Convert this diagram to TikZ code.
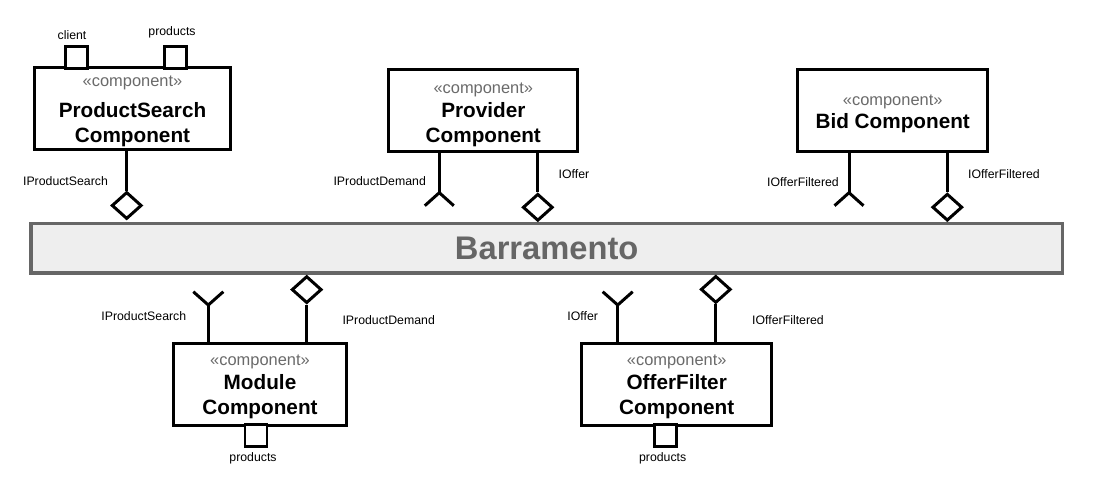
\documentclass[tikz,border=0pt]{standalone}
\usepackage{fontspec}
\setmainfont{Liberation Sans}
\usetikzlibrary{shapes.geometric,calc}
\definecolor{busfill}{HTML}{EEEEEE}
\definecolor{busline}{HTML}{666666}
\definecolor{stereo}{HTML}{6A6A6A}
\tikzset{
  ucomp/.style={draw=black,fill=white,line width=1.7pt,inner sep=0pt,minimum height=1.64cm},
  ubus/.style={draw=busline,fill=busfill,line width=2.1pt,minimum width=20.63cm,minimum height=0.99cm,text=busline,font=\fontsize{18.6}{20}\selectfont\bfseries},
  uport/.style={draw=black,fill=white,line width=1.7pt,minimum size=0.44cm,inner sep=0pt},
  uprov/.style={diamond,draw=black,fill=white,line width=1.7pt,minimum width=0.6cm,minimum height=0.54cm,inner sep=0pt},
  uline/.style={line width=1.7pt,draw=black},
  ustereo/.style={text=stereo,font=\fontsize{9.35}{11}\selectfont,inner sep=0pt},
  uname/.style={font=\fontsize{11.8}{14.2}\selectfont\bfseries,align=center,inner sep=0pt},
  ulabel/.style={font=\fontsize{7}{8}\selectfont,inner sep=0pt}
}

\begin{document}
\begin{tikzpicture}[x=0.02cm,y=-0.02cm]
  \useasboundingbox (0,0) rectangle (1101,484);
  % bus
  \node[ubus] (bus) at (546.7,248.3) {Barramento};

  % upper components
  \node[ucomp,minimum width=3.92cm] (ps) at (132.5,108.5) {};
  \node[ustereo] (psst) at (132.5,82.5) {«component»};
  \node[uname] (psnm) at (132.5,125) {ProductSearch\\Component};
  \node[uport] (psclient) at (76.8,57.5) {};
  \node[uport] (psprod) at (175.3,57.5) {};
  \node[ulabel] (psclientl) at (72,35) {client};
  \node[ulabel] (psprodl) at (172,32.7) {products};

  \node[ucomp,minimum width=3.78cm] (prov) at (483,110.5) {};
  \node[ustereo] (provst) at (483.3,90) {«component»};
  \node[uname] (provnm) at (483.3,125) {Provider\\Component};

  \node[ucomp,minimum width=3.8cm] (bid) at (892.5,110.8) {};
  \node[ustereo] (bidst) at (892.7,101.5) {«component»};
  \node[uname] (bidnm) at (892.7,123.3) {Bid Component};

  % lower components
  \node[ucomp,minimum width=3.46cm] (mod) at (260,384.7) {};
  \node[ustereo] (modst) at (260,362.2) {«component»};
  \node[uname] (modnm) at (260,397) {Module\\Component};
  \node[uport] (modprod) at (256,435) {};
  \node[ulabel] (modprodl) at (253,458) {products};

  \node[ucomp,minimum width=3.8cm] (of) at (676.5,384.7) {};
  \node[ustereo] (ofst) at (676.7,362.2) {«component»};
  \node[uname] (ofnm) at (676.7,397) {OfferFilter\\Component};
  \node[uport] (ofprod) at (665.5,435) {};
  \node[ulabel] (ofprodl) at (662.7,458) {products};

  % provided interfaces
  \node[uprov] (psd) at (126.7,205.5) {};
  \node[uprov] (provd) at (537.8,207.3) {};
  \node[uprov] (bidd) at (947.3,207.2) {};
  \node[uprov] (modd) at (306.7,289.6) {};
  \node[uprov] (ofd) at (715.8,289.4) {};
  \draw[uline] (psd.north) -- (psd.north |- ps.south);
  \draw[uline] (provd.north) -- (provd.north |- prov.south);
  \draw[uline] (bidd.north) -- (bidd.north |- bid.south);
  \draw[uline] (modd.south) -- (modd.south |- mod.north);
  \draw[uline] (ofd.south) -- (ofd.south |- of.north);

  % required interfaces
  \coordinate (provj) at (439.3,192.7);
  \coordinate (bidj) at (849,192.7);
  \coordinate (modj) at (208.3,305);
  \coordinate (ofj) at (617.7,305);
  \draw[uline] (provj |- prov.south) -- (provj);
  \draw[uline] ($(provj)+(-14.5,13)$) -- (provj) -- ($(provj)+(14.5,13)$);
  \draw[uline] (bidj |- bid.south) -- (bidj);
  \draw[uline] ($(bidj)+(-14.5,13)$) -- (bidj) -- ($(bidj)+(14.5,13)$);
  \draw[uline] (modj |- mod.north) -- (modj);
  \draw[uline] ($(modj)+(-15,-13.3)$) -- (modj) -- ($(modj)+(15,-13.3)$);
  \draw[uline] (ofj |- of.north) -- (ofj);
  \draw[uline] ($(ofj)+(-15,-13.3)$) -- (ofj) -- ($(ofj)+(15,-13.3)$);

  % interface names
  \node[ulabel] (l1) at (65.5,180.7) {IProductSearch};
  \node[ulabel] (l2) at (379.7,180.7) {IProductDemand};
  \node[ulabel] (l3) at (574,174) {IOffer};
  \node[ulabel] (l4) at (803,181.7) {IOfferFiltered};
  \node[ulabel] (l5) at (1004,174) {IOfferFiltered};
  \node[ulabel] (l6) at (143.8,315.7) {IProductSearch};
  \node[ulabel] (l7) at (388.7,320) {IProductDemand};
  \node[ulabel] (l8) at (582.7,315.7) {IOffer};
  \node[ulabel] (l9) at (788,320) {IOfferFiltered};
\end{tikzpicture}
\end{document}
